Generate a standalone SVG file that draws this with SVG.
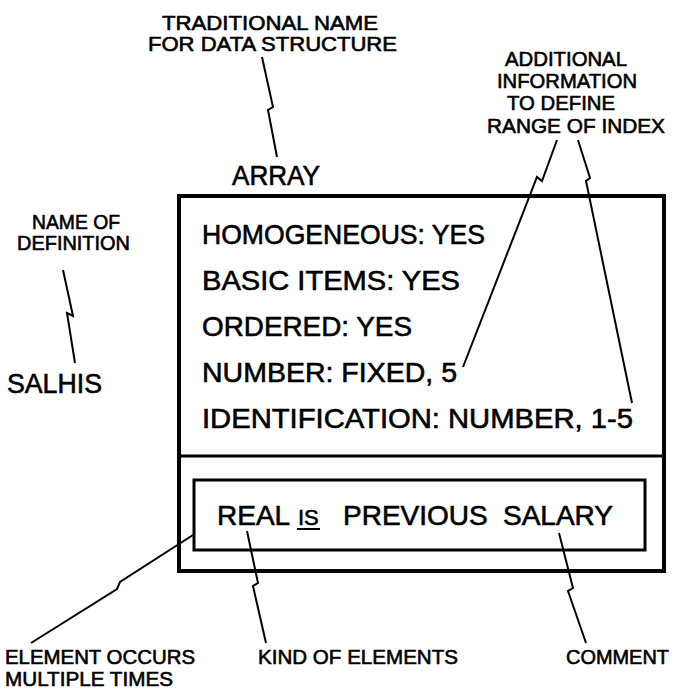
<svg xmlns="http://www.w3.org/2000/svg" width="689" height="698" viewBox="0 0 689 698">
<style>
.t{font-family:"Liberation Sans",Arial,sans-serif;fill:#000;stroke:#000;stroke-width:0.6}
.big{font-size:28px}
.sm{font-size:20px}
.lead{fill:none;stroke:#000;stroke-width:2;stroke-linejoin:miter}
.box{fill:none;stroke:#000;stroke-width:4}
.inner{fill:none;stroke:#000;stroke-width:3}
</style>
<rect width="689" height="698" fill="#fff"/>
<g id="label-traditional">
<text class="t sm" x="162" y="30" textLength="216" lengthAdjust="spacingAndGlyphs">TRADITIONAL NAME</text>
<text class="t sm" x="148" y="51" textLength="249" lengthAdjust="spacingAndGlyphs">FOR DATA STRUCTURE</text>
</g>
<g id="array-name">
<text class="t big" x="232" y="185" textLength="88" lengthAdjust="spacingAndGlyphs">ARRAY</text>
</g>
<g id="label-name-of-definition">
<text class="t sm" x="32" y="229" textLength="88" lengthAdjust="spacingAndGlyphs">NAME OF</text>
<text class="t sm" x="17" y="250" textLength="113" lengthAdjust="spacingAndGlyphs">DEFINITION</text>
</g>
<g id="salhis">
<text class="t big" x="7" y="393" textLength="95" lengthAdjust="spacingAndGlyphs">SALHIS</text>
</g>
<g id="label-additional">
<text class="t sm" x="505" y="66" textLength="122" lengthAdjust="spacingAndGlyphs">ADDITIONAL</text>
<text class="t sm" x="497" y="88" textLength="140" lengthAdjust="spacingAndGlyphs">INFORMATION</text>
<text class="t sm" x="507" y="110" textLength="108" lengthAdjust="spacingAndGlyphs">TO DEFINE</text>
<text class="t sm" x="487" y="133" textLength="178" lengthAdjust="spacingAndGlyphs">RANGE OF INDEX</text>
</g>
<g id="array-box">
<rect class="box" x="179" y="196" width="485" height="375"/>
<line class="inner" x1="179" y1="456" x2="664" y2="456"/>
<text class="t big" x="202" y="244" textLength="283" lengthAdjust="spacingAndGlyphs">HOMOGENEOUS: YES</text>
<text class="t big" x="202" y="290" textLength="258" lengthAdjust="spacingAndGlyphs">BASIC ITEMS: YES</text>
<text class="t big" x="202" y="336" textLength="210" lengthAdjust="spacingAndGlyphs">ORDERED: YES</text>
<text class="t big" x="202" y="382" textLength="255" lengthAdjust="spacingAndGlyphs">NUMBER: FIXED, 5</text>
<text class="t big" x="202" y="428" textLength="431" lengthAdjust="spacingAndGlyphs">IDENTIFICATION: NUMBER, 1-5</text>
</g>
<g id="element-box">
<rect class="inner" x="194" y="480" width="451" height="70"/>
<text class="t big" y="525"><tspan x="217">REAL</tspan><tspan x="298" font-size="22">IS</tspan><tspan x="343">PREVIOUS</tspan><tspan x="503">SALARY</tspan></text>
<line x1="297" y1="529" x2="320" y2="529" stroke="#000" stroke-width="2"/>
</g>
<g id="label-element-occurs">
<text class="t sm" x="5" y="664" textLength="190" lengthAdjust="spacingAndGlyphs">ELEMENT OCCURS</text>
<text class="t sm" x="5" y="686" textLength="168" lengthAdjust="spacingAndGlyphs">MULTIPLE TIMES</text>
</g>
<g id="label-kind">
<text class="t sm" x="258" y="664" textLength="200" lengthAdjust="spacingAndGlyphs">KIND OF ELEMENTS</text>
</g>
<g id="label-comment">
<text class="t sm" x="566" y="664" textLength="103" lengthAdjust="spacingAndGlyphs">COMMENT</text>
</g>
<g id="connectors">
<polyline class="lead" points="262,57 273,107 268,110 277,157"/>
<polyline class="lead" points="63,270 73,316 67,313 75,363"/>
<polyline class="lead" points="557,140 542,181 537,177 463,367"/>
<polyline class="lead" points="578,140 590,178 586,181 632,403"/>
<polyline class="lead" points="193,535 120,582 117,589 31,643"/>
<polyline class="lead" points="247,531 258,583 253,586 266,643"/>
<polyline class="lead" points="559,533 573,588 568,591 586,643"/>
</g>
</svg>
